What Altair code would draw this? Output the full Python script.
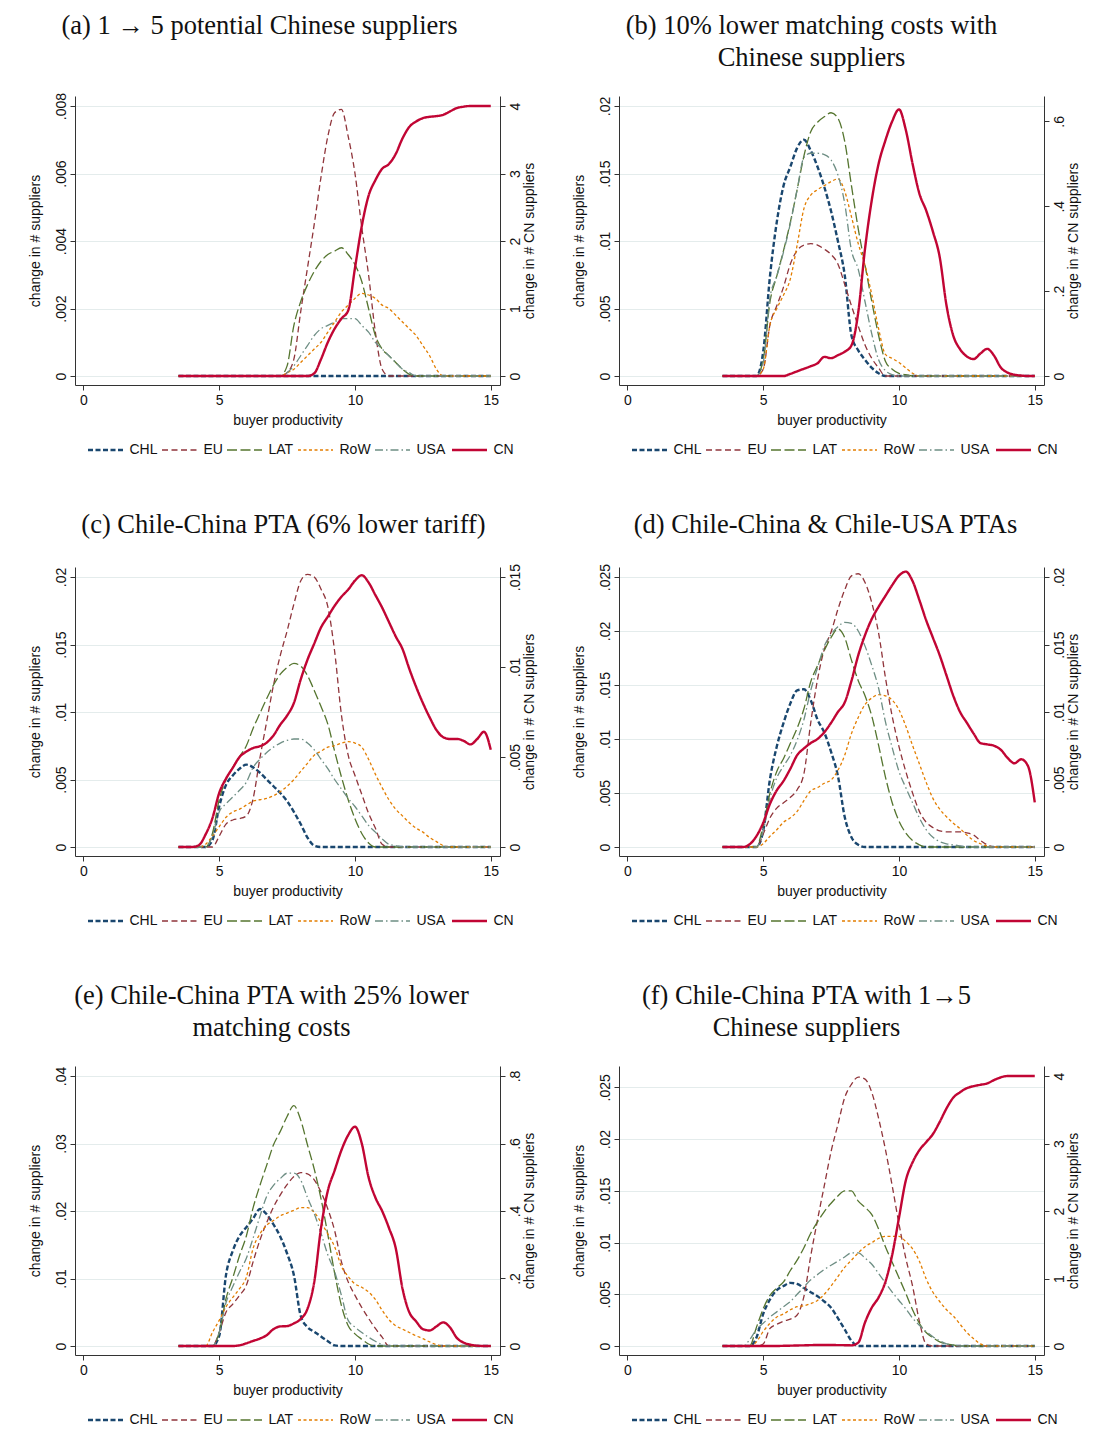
import altair as alt
import pandas as pd

SANS = "Liberation Sans"
SERIF = "Liberation Serif"

SERIES = ["CHL", "EU", "LAT", "RoW", "USA", "CN"]
COLORS = ["#1a476f", "#90353b", "#55752f", "#e37e00", "#6e8e84", "#c10534"]
DASHES = [[5, 2.5], [6, 3.5], [10, 3.5], [3, 2.5], [8, 3, 1.5, 3], [1, 0]]

# buyer productivity grid
X = [3.5, 3.75, 4.0, 4.25, 4.5, 4.75, 5.0, 5.25,
     5.5, 5.75, 6.0, 6.25, 6.5, 6.75, 7.0, 7.25,
     7.5, 7.75, 8.0, 8.25, 8.5, 8.75, 9.0, 9.25,
     9.5, 9.75, 10.0, 10.25, 10.5, 10.75, 11.0, 11.25,
     11.5, 11.75, 12.0, 12.25, 12.5, 12.75, 13.0, 13.25,
     13.5, 13.75, 14.0, 14.25, 14.5, 14.75, 15.0]

# ---------------- panel (a) ----------------
A_CHL = [0, 0, 0, 0, 0, 0, 0, 0,
         0, 0, 0, 0, 0, 0, 0, 0,
         0, 0, 0, 0, 0, 0, 0, 0,
         0, 0, 0, 0, 0, 0, 0, 0,
         0, 0, 0, 0, 0, 0, 0, 0,
         0, 0, 0, 0, 0, 0, 0]
A_EU = [0, 0, 0, 0, 0, 0, 0, 0,
        0, 0, 0, 0, 0, 0, 0, 0,
        0.0001, 0.0005, 0.0019, 0.0032, 0.0045, 0.0059, 0.0071, 0.0078,
        0.0079, 0.0071, 0.0060, 0.0044, 0.0030, 0.0013, 0.0002, 0,
        0, 0, 0, 0, 0, 0, 0, 0,
        0, 0, 0, 0, 0, 0, 0]
A_LAT = [0, 0, 0, 0, 0, 0, 0, 0,
         0, 0, 0, 0, 0, 0, 0, 0,
         0.0003, 0.0015, 0.0022, 0.0027, 0.0031, 0.0034, 0.0036, 0.0037,
         0.0038, 0.0036, 0.0033, 0.0028, 0.0020, 0.0012, 0.0008, 0.0006,
         0.0004, 0.0002, 0.00005, 0, 0, 0, 0, 0,
         0, 0, 0, 0, 0, 0, 0]
A_ROW = [0, 0, 0, 0, 0, 0, 0, 0,
         0, 0, 0, 0, 0, 0, 0, 0,
         0.0001, 0.0002, 0.0004, 0.0006, 0.0008, 0.0010, 0.0013, 0.0016,
         0.0019, 0.0021, 0.0023, 0.00245, 0.0024, 0.0023, 0.0021, 0.0020,
         0.0018, 0.0016, 0.0014, 0.0012, 0.0009, 0.0006, 0.0002, 0,
         0, 0, 0, 0, 0, 0, 0]
A_USA = [0, 0, 0, 0, 0, 0, 0, 0,
         0, 0, 0, 0, 0, 0, 0, 0,
         0.0001, 0.0003, 0.0006, 0.0009, 0.0012, 0.0014, 0.0015, 0.0016,
         0.0017, 0.0017, 0.0017, 0.0015, 0.0013, 0.0010, 0.0008, 0.0006,
         0.0004, 0.0002, 0.0001, 0, 0, 0, 0, 0,
         0, 0, 0, 0, 0, 0, 0]
A_CN = [0, 0, 0, 0, 0, 0, 0, 0,
        0, 0, 0, 0, 0, 0, 0, 0,
        0, 0, 0, 0, 0.04, 0.25, 0.5, 0.7,
        0.85, 0.97, 1.6, 2.22, 2.67, 2.9, 3.07, 3.14,
        3.29, 3.52, 3.69, 3.77, 3.82, 3.84, 3.85, 3.87,
        3.92, 3.97, 3.99, 4.0, 4.0, 4.0, 4.0]

# ---------------- panel (b) ----------------
B_CHL = [0, 0, 0, 0, 0, 0, 0.0018, 0.0074,
         0.0114, 0.0141, 0.0155, 0.0169, 0.0175, 0.0167, 0.0155, 0.0140,
         0.0122, 0.0100, 0.0075, 0.0030, 0.0019, 0.0012, 0.0006, 0.0002,
         0, 0, 0, 0, 0, 0, 0, 0,
         0, 0, 0, 0, 0, 0, 0, 0,
         0, 0, 0, 0, 0, 0, 0]
B_EU = [0, 0, 0, 0, 0, 0, 0.0005, 0.0038,
        0.0052, 0.0066, 0.0083, 0.0093, 0.0097, 0.0098, 0.0097, 0.0094,
        0.0090, 0.0083, 0.0068, 0.0052, 0.0037, 0.0023, 0.0013, 0.0006,
        0, 0, 0, 0, 0, 0, 0, 0,
        0, 0, 0, 0, 0, 0, 0, 0,
        0, 0, 0, 0, 0, 0, 0]
B_LAT = [0, 0, 0, 0, 0, 0, 0.0012, 0.0055,
         0.0074, 0.0093, 0.0114, 0.0138, 0.0163, 0.0181, 0.0188, 0.0192,
         0.0195, 0.0191, 0.0174, 0.0141, 0.0109, 0.0082, 0.0055, 0.0030,
         0.0011, 0.0005, 0.0002, 0.0001, 0, 0, 0, 0,
         0, 0, 0, 0, 0, 0, 0, 0,
         0, 0, 0, 0, 0, 0, 0]
B_ROW = [0, 0, 0, 0, 0, 0, 0.0005, 0.0038,
         0.0050, 0.0060, 0.0072, 0.0097, 0.0124, 0.0134, 0.0138, 0.0141,
         0.0144, 0.0146, 0.0137, 0.0118, 0.0098, 0.0082, 0.0060, 0.0035,
         0.0016, 0.0013, 0.0010, 0.0006, 0.0002, 0, 0, 0,
         0, 0, 0, 0, 0, 0, 0, 0,
         0, 0, 0, 0, 0, 0, 0]
B_USA = [0, 0, 0, 0, 0, 0, 0.0010, 0.0058,
         0.0074, 0.0092, 0.0113, 0.0138, 0.0162, 0.0165, 0.0165, 0.0164,
         0.0160, 0.0149, 0.0128, 0.0093, 0.0079, 0.0055, 0.0031, 0.0012,
         0.0004, 0.0001, 0, 0, 0, 0, 0, 0,
         0, 0, 0, 0, 0, 0, 0, 0,
         0, 0, 0, 0, 0, 0, 0]
B_CN = [0, 0, 0, 0, 0, 0, 0, 0,
        0, 0, 0.005, 0.011, 0.017, 0.023, 0.030, 0.045,
        0.042, 0.049, 0.057, 0.072, 0.15, 0.30, 0.415, 0.50,
        0.555, 0.60, 0.628, 0.58, 0.50, 0.43, 0.39, 0.34,
        0.28, 0.166, 0.095, 0.063, 0.046, 0.040, 0.053, 0.064,
        0.048, 0.020, 0.008, 0.003, 0.001, 0, 0]

# ---------------- panel (c) ----------------
C_CHL = [0, 0, 0, 0, 0, 0.0005, 0.0030, 0.0046,
         0.0053, 0.0058, 0.0061, 0.0059, 0.0055, 0.0050, 0.0045, 0.0040,
         0.0034, 0.0026, 0.0017, 0.0007, 0.0001, 0, 0, 0,
         0, 0, 0, 0, 0, 0, 0, 0,
         0, 0, 0, 0, 0, 0, 0, 0,
         0, 0, 0, 0, 0, 0, 0]
C_EU = [0, 0, 0, 0, 0, 0, 0.0008, 0.0017,
        0.0020, 0.0021, 0.0023, 0.0036, 0.0066, 0.0093, 0.0120, 0.0142,
        0.0160, 0.0180, 0.0197, 0.0202, 0.0200, 0.0191, 0.0178, 0.0145,
        0.0098, 0.0068, 0.0053, 0.0039, 0.0025, 0.0014, 0.0002, 0,
        0, 0, 0, 0, 0, 0, 0, 0,
        0, 0, 0, 0, 0, 0, 0]
C_LAT = [0, 0, 0, 0, 0, 0.0010, 0.0035, 0.0050,
         0.0059, 0.0067, 0.0075, 0.0088, 0.0099, 0.0110, 0.0120, 0.0128,
         0.0133, 0.0136, 0.0134, 0.0127, 0.0116, 0.0104, 0.0091, 0.0071,
         0.0052, 0.0035, 0.0021, 0.0010, 0.0003, 0, 0, 0,
         0, 0, 0, 0, 0, 0, 0, 0,
         0, 0, 0, 0, 0, 0, 0]
C_ROW = [0, 0, 0, 0, 0.0002, 0.0008, 0.0015, 0.0022,
         0.0026, 0.0028, 0.0031, 0.0034, 0.0035, 0.0036, 0.0038, 0.0041,
         0.0045, 0.0050, 0.0056, 0.0062, 0.0068, 0.0071, 0.0074, 0.0075,
         0.0077, 0.0078, 0.0077, 0.0074, 0.0065, 0.0054, 0.0044, 0.0035,
         0.0028, 0.0023, 0.0018, 0.0014, 0.0011, 0.0007, 0.0004, 0.0001,
         0, 0, 0, 0, 0, 0, 0]
C_USA = [0, 0, 0, 0, 0, 0.0008, 0.0026, 0.0032,
         0.0037, 0.0042, 0.0048, 0.0059, 0.0065, 0.0070, 0.0074, 0.0077,
         0.0079, 0.0080, 0.0080, 0.0077, 0.0072, 0.0065, 0.0058, 0.0050,
         0.0043, 0.0036, 0.0030, 0.0023, 0.0016, 0.0011, 0.0006, 0.0002,
         0.0001, 0, 0, 0, 0, 0, 0, 0,
         0, 0, 0, 0, 0, 0, 0]
C_CN = [0, 0, 0, 0.0001, 0.0007, 0.0016, 0.0030, 0.0038,
        0.0044, 0.0050, 0.0053, 0.0055, 0.0056, 0.0058, 0.0062, 0.0068,
        0.0073, 0.0080, 0.0093, 0.0104, 0.0113, 0.0122, 0.0128, 0.0134,
        0.0139, 0.0143, 0.0148, 0.0151, 0.0147, 0.0140, 0.0133, 0.0125,
        0.0117, 0.0110, 0.0099, 0.0089, 0.0080, 0.0072, 0.0065, 0.0061,
        0.0060, 0.0060, 0.0059, 0.0057, 0.0060, 0.0064, 0.0054]

# ---------------- panel (d) ----------------
D_CHL = [0, 0, 0, 0, 0, 0, 0.0015, 0.0063,
         0.0093, 0.0115, 0.0133, 0.0145, 0.0146, 0.0136, 0.0118, 0.0106,
         0.0088, 0.0066, 0.0028, 0.0009, 0.0002, 0, 0, 0,
         0, 0, 0, 0, 0, 0, 0, 0,
         0, 0, 0, 0, 0, 0, 0, 0,
         0, 0, 0, 0, 0, 0, 0]
D_EU = [0, 0, 0, 0, 0, 0, 0.0012, 0.0027,
        0.0036, 0.0041, 0.0046, 0.0053, 0.0068, 0.0115, 0.0155, 0.0183,
        0.0199, 0.0220, 0.0238, 0.0251, 0.0253, 0.0245, 0.0226, 0.0198,
        0.0157, 0.0121, 0.0093, 0.0070, 0.0050, 0.0033, 0.0023, 0.0018,
        0.0015, 0.0014, 0.0014, 0.0014, 0.0013, 0.0011, 0.0006, 0.0002,
        0, 0, 0, 0, 0, 0, 0]
D_LAT = [0, 0, 0, 0, 0, 0, 0.0020, 0.0050,
         0.0070, 0.0082, 0.0096, 0.0110, 0.0128, 0.0153, 0.0168, 0.0182,
         0.0194, 0.0202, 0.0194, 0.0173, 0.0154, 0.0140, 0.0121, 0.0094,
         0.0065, 0.0041, 0.0024, 0.0013, 0.0006, 0.0002, 0, 0,
         0, 0, 0, 0, 0, 0, 0, 0,
         0, 0, 0, 0, 0, 0, 0]
D_ROW = [0, 0, 0, 0, 0, 0, 0.0003, 0.0010,
         0.0016, 0.0023, 0.0027, 0.0033, 0.0043, 0.0052, 0.0055, 0.0059,
         0.0062, 0.0071, 0.0085, 0.0105, 0.0120, 0.0132, 0.0138, 0.0141,
         0.0140, 0.0136, 0.0127, 0.0112, 0.0094, 0.0077, 0.0060, 0.0045,
         0.0035, 0.0028, 0.0022, 0.0017, 0.0011, 0.0006, 0.0003, 0.0001,
         0, 0, 0, 0, 0, 0, 0]
D_USA = [0, 0, 0, 0, 0, 0, 0.0015, 0.0045,
         0.0064, 0.0075, 0.0085, 0.0099, 0.0118, 0.0145, 0.0166, 0.0186,
         0.0197, 0.0204, 0.0208, 0.0207, 0.0200, 0.0186, 0.0168, 0.0147,
         0.0116, 0.0092, 0.0070, 0.0055, 0.0041, 0.0027, 0.0016, 0.0009,
         0.0005, 0.0003, 0.0002, 0.0001, 0, 0, 0, 0,
         0, 0, 0, 0, 0, 0, 0]
D_CN = [0, 0, 0, 0, 0.0002, 0.0008, 0.0018, 0.0032,
        0.0042, 0.0049, 0.0058, 0.0068, 0.0073, 0.0077, 0.0080, 0.0085,
        0.0092, 0.0100, 0.0107, 0.0123, 0.0142, 0.0157, 0.0169, 0.0178,
        0.0186, 0.0194, 0.0201, 0.0204, 0.0197, 0.0183, 0.0168, 0.0155,
        0.0142, 0.0127, 0.0112, 0.0100, 0.0092, 0.0084, 0.0077, 0.0076,
        0.0075, 0.0072, 0.0066, 0.0062, 0.0065, 0.0060, 0.0033]

# ---------------- panel (e) ----------------
E_CHL = [0, 0, 0, 0, 0, 0, 0.0015, 0.0105,
         0.0141, 0.0163, 0.0176, 0.0189, 0.0203, 0.0195, 0.0180, 0.0162,
         0.0137, 0.0105, 0.0045, 0.0028, 0.0021, 0.0014, 0.0007, 0.0001,
         0, 0, 0, 0, 0, 0, 0, 0,
         0, 0, 0, 0, 0, 0, 0, 0,
         0, 0, 0, 0, 0, 0, 0]
E_EU = [0, 0, 0, 0, 0, 0, 0.0020, 0.0050,
        0.0062, 0.0075, 0.0090, 0.0125, 0.0157, 0.0183, 0.0206, 0.0224,
        0.0239, 0.0251, 0.0257, 0.0255, 0.0246, 0.0228, 0.0203, 0.0171,
        0.0125, 0.0095, 0.0075, 0.0057, 0.0041, 0.0026, 0.0013, 0,
        0, 0, 0, 0, 0, 0, 0, 0,
        0, 0, 0, 0, 0, 0, 0]
E_LAT = [0, 0, 0, 0, 0, 0, 0.0020, 0.0070,
         0.0101, 0.0134, 0.0163, 0.0205, 0.0238, 0.0268, 0.0298, 0.0318,
         0.0340, 0.0356, 0.0335, 0.0298, 0.0262, 0.0218, 0.0165, 0.0108,
         0.0060, 0.0030, 0.0018, 0.0010, 0.0003, 0, 0, 0,
         0, 0, 0, 0, 0, 0, 0, 0,
         0, 0, 0, 0, 0, 0, 0]
E_ROW = [0, 0, 0, 0, 0, 0.0020, 0.0038, 0.0058,
         0.0072, 0.0085, 0.0102, 0.0145, 0.0166, 0.0179, 0.0186, 0.0193,
         0.0197, 0.0201, 0.0205, 0.0205, 0.0198, 0.0183, 0.0166, 0.0147,
         0.0118, 0.0103, 0.0092, 0.0087, 0.0080, 0.0069, 0.0053, 0.0039,
         0.0030, 0.0025, 0.0020, 0.0015, 0.0011, 0.0006, 0.0002, 0,
         0, 0, 0, 0, 0, 0, 0]
E_USA = [0, 0, 0, 0, 0, 0, 0.0020, 0.0064,
         0.0088, 0.0110, 0.0130, 0.0160, 0.0192, 0.0222, 0.0238, 0.0248,
         0.0256, 0.0256, 0.0246, 0.0220, 0.0196, 0.0167, 0.0135, 0.0110,
         0.0075, 0.0038, 0.0028, 0.0020, 0.0013, 0.0007, 0.0002, 0,
         0, 0, 0, 0, 0, 0, 0, 0,
         0, 0, 0, 0, 0, 0, 0]
E_CN = [0, 0, 0, 0, 0, 0, 0, 0,
        0, 0.002, 0.008, 0.015, 0.022, 0.032, 0.050, 0.058,
        0.059, 0.067, 0.080, 0.110, 0.190, 0.350, 0.460, 0.520,
        0.580, 0.625, 0.650, 0.600, 0.500, 0.440, 0.400, 0.350,
        0.290, 0.170, 0.100, 0.073, 0.050, 0.046, 0.058, 0.070,
        0.055, 0.024, 0.010, 0.004, 0.001, 0, 0]

# ---------------- panel (f) ----------------
F_CHL = [0, 0, 0, 0, 0, 0.0008, 0.0031, 0.0045,
         0.0054, 0.0058, 0.0061, 0.0060, 0.0056, 0.0052, 0.0048, 0.0043,
         0.0037, 0.0027, 0.0016, 0.0005, 0, 0, 0, 0,
         0, 0, 0, 0, 0, 0, 0, 0,
         0, 0, 0, 0, 0, 0, 0, 0,
         0, 0, 0, 0, 0, 0, 0]
F_EU = [0, 0, 0, 0, 0, 0, 0.0002, 0.0017,
        0.0021, 0.0024, 0.0026, 0.0030, 0.0048, 0.0087, 0.0122, 0.0155,
        0.0188, 0.0214, 0.0240, 0.0253, 0.0260, 0.0258, 0.0245, 0.0220,
        0.0190, 0.0155, 0.0118, 0.0085, 0.0058, 0.0024, 0.0002, 0,
        0, 0, 0, 0, 0, 0, 0, 0,
        0, 0, 0, 0, 0, 0, 0]
F_LAT = [0, 0, 0, 0, 0, 0.0018, 0.0036, 0.0049,
         0.0056, 0.0062, 0.0073, 0.0083, 0.0095, 0.0109, 0.0120, 0.0130,
         0.0138, 0.0145, 0.0150, 0.0150, 0.0140, 0.0134, 0.0127, 0.0113,
         0.0096, 0.0081, 0.0066, 0.0051, 0.0035, 0.0022, 0.0013, 0.0008,
         0.0004, 0.0002, 0.0001, 0, 0, 0, 0, 0,
         0, 0, 0, 0, 0, 0, 0]
F_ROW = [0, 0, 0, 0, 0, 0.0004, 0.0014, 0.0022,
         0.0028, 0.0031, 0.0035, 0.0038, 0.0039, 0.0041, 0.0044, 0.0050,
         0.0058, 0.0067, 0.0076, 0.0083, 0.0090, 0.0096, 0.0100, 0.0104,
         0.0106, 0.0106, 0.0106, 0.0101, 0.0094, 0.0082, 0.0065, 0.0052,
         0.0043, 0.0035, 0.0029, 0.0021, 0.0013, 0.0007, 0.0002, 0,
         0, 0, 0, 0, 0, 0, 0]
F_USA = [0, 0, 0, 0, 0.0006, 0.0016, 0.0022, 0.0028,
         0.0033, 0.0038, 0.0043, 0.0050, 0.0057, 0.0064, 0.0069, 0.0074,
         0.0078, 0.0082, 0.0086, 0.0090, 0.0090, 0.0085, 0.0079, 0.0070,
         0.0061, 0.0052, 0.0044, 0.0036, 0.0027, 0.0020, 0.0014, 0.0009,
         0.0005, 0.0002, 0.0001, 0, 0, 0, 0, 0,
         0, 0, 0, 0, 0, 0, 0]
F_CN = [0, 0, 0, 0, 0, 0, 0, 0,
        0, 0.003, 0.005, 0.008, 0.010, 0.013, 0.015, 0.015,
        0.015, 0.013, 0.012, 0.010, 0.05, 0.35, 0.57, 0.72,
        0.95, 1.35, 1.9, 2.45, 2.72, 2.9, 3.02, 3.14,
        3.32, 3.52, 3.68, 3.76, 3.82, 3.85, 3.87, 3.89,
        3.94, 3.98, 4.0, 4.0, 4.0, 4.0, 4.0]

TITLE_OFFSET = 25
LINE_H = 32

PANELS = [
    dict(title="(a) 1 \u2192 5 potential Chinese suppliers", dx=-28, offset=TITLE_OFFSET + LINE_H - 4,
         data=[A_CHL, A_EU, A_LAT, A_ROW, A_USA, A_CN],
         lticks=[0, 0.002, 0.004, 0.006, 0.008], ltop=0.008,
         rticks=[0, 1, 2, 3, 4], rtop=4),
    dict(title=["(b) 10% lower matching costs with", "Chinese suppliers"], dx=-20, offset=TITLE_OFFSET,
         data=[B_CHL, B_EU, B_LAT, B_ROW, B_USA, B_CN],
         lticks=[0, 0.005, 0.01, 0.015, 0.02], ltop=0.02,
         rticks=[0, 0.2, 0.4, 0.6], rtop=0.636),
    dict(title="(c) Chile-China PTA (6% lower tariff)", dx=-4, offset=TITLE_OFFSET,
         data=[C_CHL, C_EU, C_LAT, C_ROW, C_USA, C_CN],
         lticks=[0, 0.005, 0.01, 0.015, 0.02], ltop=0.02,
         rticks=[0, 0.005, 0.01, 0.015], rtop=0.015),
    dict(title="(d) Chile-China & Chile-USA PTAs", dx=-6, offset=TITLE_OFFSET,
         data=[D_CHL, D_EU, D_LAT, D_ROW, D_USA, D_CN],
         lticks=[0, 0.005, 0.01, 0.015, 0.02, 0.025], ltop=0.025,
         rticks=[0, 0.005, 0.01, 0.015, 0.02], rtop=0.02),
    dict(title=["(e) Chile-China PTA with 25% lower", "matching costs"], dx=-16, offset=TITLE_OFFSET,
         data=[E_CHL, E_EU, E_LAT, E_ROW, E_USA, E_CN],
         lticks=[0, 0.01, 0.02, 0.03, 0.04], ltop=0.04,
         rticks=[0, 0.2, 0.4, 0.6, 0.8], rtop=0.8),
    dict(title=["(f) Chile-China PTA with 1\u21925", "Chinese suppliers"], dx=-25, offset=TITLE_OFFSET,
         data=[F_CHL, F_EU, F_LAT, F_ROW, F_USA, F_CN],
         lticks=[0, 0.005, 0.01, 0.015, 0.02, 0.025], ltop=0.0261,
         rticks=[0, 1, 2, 3, 4], rtop=4),
]

W, H = 425, 289
BOT, TOP, SPAN = 9, 10, 270
XDOM = [-0.31, 15.34]
LABEL_EXPR = "replace(format(datum.value, '~g'), '0.', '.')"


def make_panel(p):
    for arr in p["data"]:
        assert len(arr) == len(X), (p["title"], len(arr))
    left_rows = []
    for s, arr in zip(SERIES[:5], p["data"][:5]):
        for xv, yv in zip(X, arr):
            left_rows.append({"x": xv, "v": yv, "series": s})
    left_df = pd.DataFrame(left_rows)
    right_df = pd.DataFrame({"x": X, "v": p["data"][5], "series": "CN"})

    legend = alt.Legend(
        orient="none", legendX=13, legendY=H + 58, direction="horizontal",
        columns=6, title=None, symbolType="stroke", symbolSize=1225,
        symbolOffset=10.5, labelFont=SANS, labelFontSize=14, labelColor="#111",
        columnPadding=1, labelOffset=17,
        symbolStrokeWidth={"expr": "datum.value === 'CHL' || datum.value === 'CN' ? 2.4 : 1.3"},
    )
    color = alt.Color("series:N", scale=alt.Scale(domain=SERIES, range=COLORS), legend=legend)
    dash = alt.StrokeDash("series:N", scale=alt.Scale(domain=SERIES, range=DASHES), legend=legend)
    xenc = alt.X(
        "x:Q", title="buyer productivity",
        scale=alt.Scale(domain=XDOM, nice=False, zero=False),
        axis=alt.Axis(values=[0, 5, 10, 15], grid=False, tickSize=5, labelPadding=3,
                      titlePadding=6, labelFlush=False, labelOverlap=False),
    )
    lt, rt = p["ltop"], p["rtop"]
    ldom = [-lt * BOT / SPAN, lt * (SPAN + TOP) / SPAN]
    rdom = [-rt * BOT / SPAN, rt * (SPAN + TOP) / SPAN]

    left = alt.Chart(left_df).mark_line(interpolate="monotone").encode(
        x=xenc,
        y=alt.Y("v:Q", title="change in # suppliers",
                scale=alt.Scale(domain=ldom, nice=False, zero=False),
                axis=alt.Axis(orient="left", values=p["lticks"], labelExpr=LABEL_EXPR,
                              labelAngle=270, labelAlign="center", labelBaseline="bottom",
                              labelPadding=2, tickSize=5, grid=True, titlePadding=12,
                              labelOverlap=False, labelFlush=False)),
        color=color,
        strokeDash=dash,
        strokeWidth=alt.condition("datum.series === 'CHL'", alt.value(2.4), alt.value(1.3)),
    )
    right = alt.Chart(right_df).mark_line(interpolate="monotone", strokeWidth=2.4).encode(
        x=xenc,
        y=alt.Y("v:Q", title="change in # CN suppliers",
                scale=alt.Scale(domain=rdom, nice=False, zero=False),
                axis=alt.Axis(orient="right", values=p["rticks"], labelExpr=LABEL_EXPR,
                              labelAngle=270, labelAlign="center", labelBaseline="top",
                              labelPadding=3, tickSize=5, grid=False,
                              titleAngle=270, titleBaseline="top", titlePadding=0,
                              labelOverlap=False, labelFlush=False)),
        color=color,
        strokeDash=dash,
    )
    return alt.layer(left, right).resolve_scale(y="independent").properties(
        width=W, height=H,
        title=alt.TitleParams(text=p["title"], dx=p["dx"], offset=p["offset"]),
    )


panels = [make_panel(p) for p in PANELS]

chart = alt.concat(*panels, columns=2, spacing={"row": 54, "column": 35}).resolve_scale(
    color="independent", strokeDash="independent"
).properties(
    padding={"left": 20, "top": 4, "right": 5, "bottom": 5},
    background="white",
).configure_view(
    strokeWidth=0
).configure_axis(
    labelFont=SANS, titleFont=SANS, labelFontSize=14, titleFontSize=14,
    labelColor="#111", titleColor="#111", titleFontWeight="normal",
    domainColor="#333", tickColor="#333", gridColor="#e4ecec", gridWidth=1,
).configure_title(
    font=SERIF, fontSize=26.5, fontWeight="normal", color="#111", anchor="middle",
    baseline="alphabetic", lineHeight=LINE_H,
)

chart.save("out.html", embed_options={"renderer": "svg", "actions": False})
